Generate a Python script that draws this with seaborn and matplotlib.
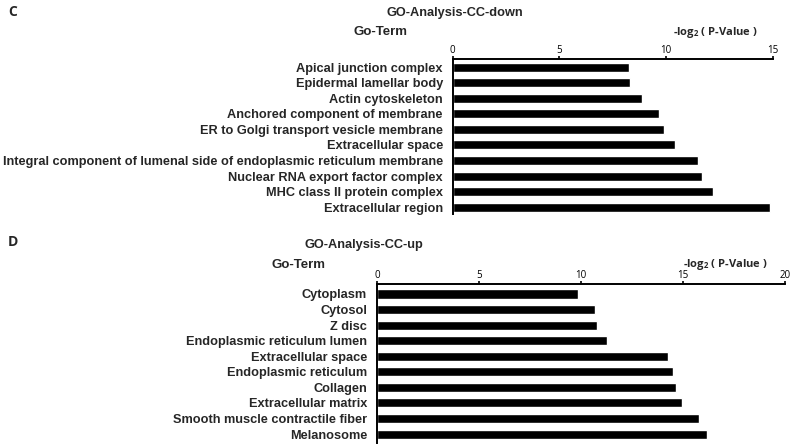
import numpy as np
import pandas as pd
import matplotlib
matplotlib.use('Agg')
import matplotlib.pyplot as plt
import seaborn as sns

# GO cellular component terms, down-regulated (panel C)
down_terms = ['Apical junction complex', 'Epidermal lamellar body', 'Actin cytoskeleton',
              'Anchored component of membrane', 'ER to Golgi transport vesicle membrane',
              'Extracellular space',
              'Integral component of lumenal side of endoplasmic reticulum membrane',
              'Nuclear RNA export factor complex', 'MHC class II protein complex',
              'Extracellular region']
down_vals = [8.25, 8.33, 8.87, 9.69, 9.9, 10.4, 11.49, 11.7, 12.19, 14.86]

# GO cellular component terms, up-regulated (panel D)
up_terms = ['Cytoplasm', 'Cytosol', 'Z disc', 'Endoplasmic reticulum lumen',
            'Extracellular space', 'Endoplasmic reticulum', 'Collagen',
            'Extracellular matrix', 'Smooth muscle contractile fiber', 'Melanosome']
up_vals = [9.86, 10.7, 10.78, 11.25, 14.27, 14.52, 14.67, 14.94, 15.76, 16.16]

down_ticks = [0, 5, 10, 15]
up_ticks = [0, 5, 10, 15, 20]

sns.set_style('white')
narrow = ['Liberation Sans Narrow', 'Liberation Sans', 'DejaVu Sans']
tickfont = ['Open Sans', 'DejaVu Sans']
plt.rcParams['font.family'] = narrow
plt.rcParams['mathtext.default'] = 'regular'

fig = plt.figure(figsize=(7.9, 4.48), dpi=100)


def panel(rect, terms, vals, ticks, ylim):
    ax = fig.add_axes(rect)
    df = pd.DataFrame({'term': terms, 'val': vals})
    sns.barplot(data=df, x='val', y='term', orient='h', color='black',
                width=0.58, ax=ax, saturation=1)
    ax.set_xlim(ticks[0], ticks[-1])
    ax.set_ylim(*ylim)
    ax.xaxis.tick_top()
    ax.set_xticks(ticks)
    ax.set_xticklabels([str(t) for t in ticks], fontsize=7, family=tickfont)
    ax.tick_params(axis='x', direction='out', length=2, width=1.2, pad=0.5, colors='black')
    ax.tick_params(axis='y', length=0, pad=7)
    for lab in ax.get_yticklabels():
        lab.set_fontweight('bold')
        lab.set_fontsize(9.2)
        lab.set_family(narrow)
    ax.set_xlabel('')
    ax.set_ylabel('')
    for s in ['right', 'bottom']:
        ax.spines[s].set_visible(False)
    for s in ['top', 'left']:
        ax.spines[s].set_linewidth(1.4)
        ax.spines[s].set_color('black')
    return ax


panel([0.573, 0.522, 0.405, 0.346], down_terms, down_vals, down_ticks, (9.45, -0.51))
panel([0.477, 0.011, 0.517, 0.355], up_terms, up_vals, up_ticks, (9.58, -0.64))

# panel letters and headers
fig.text(8 / 790, 1 - 12 / 448, 'C', fontsize=10, fontweight='bold', family=tickfont, va='center')
fig.text(8 / 790, 1 - 242 / 448, 'D', fontsize=10, fontweight='bold', family=tickfont, va='center')

fig.text(455 / 790, 1 - 13 / 448, 'GO-Analysis-CC-down', fontsize=9.2, fontweight='bold',
         family=narrow, ha='center', va='center')
fig.text(364 / 790, 1 - 245 / 448, 'GO-Analysis-CC-up', fontsize=9.2, fontweight='bold',
         family=narrow, ha='center', va='center')

fig.text(381 / 790, 1 - 32 / 448, 'Go-Term', fontsize=9.5, fontweight='bold',
         family=narrow, ha='center', va='center')
fig.text(298 / 790, 1 - 265 / 448, 'Go-Term', fontsize=9.5, fontweight='bold',
         family=narrow, ha='center', va='center')

fig.text(715 / 790, 1 - 32 / 448, '-log$_2$ ( P-Value )', fontsize=8, fontweight='bold',
         family=tickfont, ha='center', va='center')
fig.text(725 / 790, 1 - 264 / 448, '-log$_2$ ( P-Value )', fontsize=8, fontweight='bold',
         family=tickfont, ha='center', va='center')

fig.savefig('out.png', dpi=100)
